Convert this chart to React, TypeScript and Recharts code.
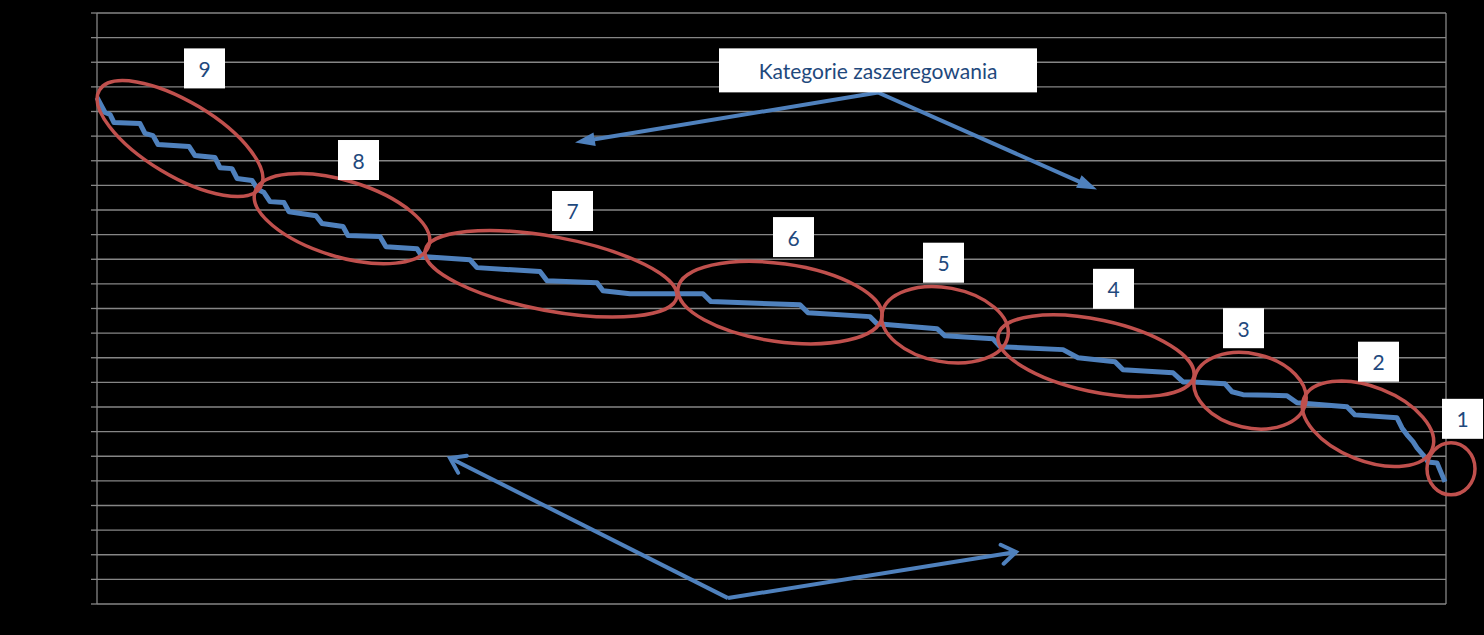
import React from 'react'
import {
  LineChart,
  Line,
  XAxis,
  YAxis,
  CartesianGrid,
  ReferenceDot,
  ReferenceLine,
} from 'recharts'

// position along the pay scale (left to right) and salary level
const positions = [
  0, 8, 13, 17, 43, 48, 56, 61, 92, 98, 118, 123, 135, 140, 155, 161, 167, 173,
  187, 192, 219, 225, 246, 251, 283, 289, 320, 325, 373, 380, 443, 450, 500, 506,
  533, 606, 614, 703, 711, 773, 780, 840, 848, 896, 903, 966, 981, 1018, 1026,
  1076, 1086, 1096, 1128, 1135, 1146, 1190, 1200, 1250, 1258, 1300, 1305, 1310,
  1316, 1320, 1326, 1331, 1340, 1348,
]
const levels = [
  20.57, 19.96, 19.88, 19.55, 19.51, 19.11, 19.02, 18.66, 18.58, 18.21, 18.13,
  17.72, 17.68, 17.28, 17.2, 16.83, 16.71, 16.34, 16.3, 15.93, 15.77, 15.45,
  15.33, 14.96, 14.92, 14.51, 14.43, 14.11, 13.98, 13.66, 13.5, 13.13, 13.05,
  12.72, 12.6, 12.6, 12.28, 12.15, 11.83, 11.67, 11.38, 11.18, 10.89, 10.77,
  10.45, 10.33, 10.0, 9.84, 9.51, 9.39, 9.02, 9.02, 8.94, 8.62, 8.5, 8.46, 8.17,
  8.01, 7.68, 7.56, 7.15, 6.87, 6.59, 6.34, 6.06, 5.77, 5.73, 4.96,
]
const yTicks = [0, 1, 2, 3, 4, 5, 6, 7, 8, 9, 10, 11, 12, 13, 14, 15, 16, 17, 18, 19, 20, 21, 22, 23, 24]

// grading categories
const categories = ['9', '8', '7', '6', '5', '4', '3', '2', '1']
const ringX = [83, 245, 454, 683, 848, 999, 1153, 1271, 1354]
const ringY = [18.9, 15.65, 13.41, 12.24, 11.34, 10.08, 8.66, 7.32, 5.49]
const tagX = [107.5, 261.5, 475.5, 696.5, 846.5, 1016.5, 1146.5, 1281.5, 1365.5]
const tagY = [21.75, 18.03, 15.96, 14.9, 13.86, 12.8, 11.2, 9.84, 7.52]

const title = 'Kategorie zaszeregowania'

// ring shape per category: [rx, ry, rotation]
const ringShape = [
  [94, 37, 31],
  [91, 38, 17],
  [128, 37, 10.5],
  [103, 39, 8],
  [64, 37, 10.5],
  [100, 36, 12],
  [57, 37, 13],
  [69, 37, 21.5],
  [24, 26, 0],
]

const data = positions.map((x, i) => ({ x, y: levels[i] }))

const BLUE = '#4F81BD'
const RED = '#C0504D'
const TEXT = '#1F497D'
const GRID = '#868686'
const FONT = 'Lato, "Open Sans", sans-serif'

const Ring = (rx: number, ry: number, rot: number) => (props: any) => {
  const { cx, cy } = props
  return (
    <ellipse
      cx={cx}
      cy={cy}
      rx={rx}
      ry={ry}
      transform={`rotate(${rot} ${cx} ${cy})`}
      fill="none"
      stroke={RED}
      strokeWidth={3.5}
    />
  )
}

const Tag = (label: string, w: number, h: number, size: number) => (props: any) => {
  const { cx, cy } = props
  return (
    <g>
      <rect x={cx - w / 2} y={cy - h / 2} width={w} height={h} fill="#fff" />
      <text
        x={cx}
        y={cy}
        textAnchor="middle"
        dominantBaseline="central"
        fill={TEXT}
        fontFamily={FONT}
        fontSize={size}
      >
        {label}
      </text>
    </g>
  )
}

const Arrow = (filled: boolean) => (props: any) => {
  const { x1, y1, x2, y2 } = props
  const ang = Math.atan2(y2 - y1, x2 - x1)
  const len = filled ? 21 : 17
  const spread = filled ? 0.33 : 0.6
  const ax = x2 - len * Math.cos(ang - spread)
  const ay = y2 - len * Math.sin(ang - spread)
  const bx = x2 - len * Math.cos(ang + spread)
  const by = y2 - len * Math.sin(ang + spread)
  const ex = filled ? x2 - (len - 4) * Math.cos(ang) : x2
  const ey = filled ? y2 - (len - 4) * Math.sin(ang) : y2
  return (
    <g>
      <line x1={x1} y1={y1} x2={ex} y2={ey} stroke={BLUE} strokeWidth={4} />
      {filled ? (
        <polygon points={`${x2},${y2} ${ax},${ay} ${bx},${by}`} fill={BLUE} />
      ) : (
        <polyline
          points={`${ax},${ay} ${x2},${y2} ${bx},${by}`}
          fill="none"
          stroke={BLUE}
          strokeWidth={4}
          strokeLinecap="round"
        />
      )}
    </g>
  )
}

export default function App() {
  return (
    <div
      style={{
        position: 'fixed',
        left: 0,
        top: 0,
        width: 1484,
        height: 635,
        background: '#000',
        overflow: 'hidden',
      }}
    >
      <LineChart
        width={1484}
        height={635}
        data={data}
        margin={{ top: 13, right: 38, bottom: 31, left: 87 }}
      >
        <CartesianGrid vertical={false} stroke={GRID} strokeWidth={1.3} />
        <XAxis dataKey="x" type="number" domain={[0, 1349]} hide />
        <YAxis
          type="number"
          domain={[0, 24]}
          ticks={yTicks}
          interval={0}
          tick={() => <g />}
          tickSize={6}
          width={10}
          axisLine={{ stroke: GRID, strokeWidth: 1.3 }}
          tickLine={{ stroke: GRID, strokeWidth: 1.3 }}
        />
        <ReferenceLine x={1349} stroke={GRID} strokeWidth={1.3} ifOverflow="visible" />
        <Line
          type="linear"
          dataKey="y"
          stroke={BLUE}
          strokeWidth={5}
          strokeLinejoin="round"
          dot={false}
          activeDot={false}
          isAnimationActive={false}
        />
        {categories.map((c, i) => (
          <ReferenceDot
            key={'ring' + c}
            x={ringX[i]}
            y={ringY[i]}
            r={1}
            ifOverflow="visible"
            shape={Ring(ringShape[i][0], ringShape[i][1], ringShape[i][2])}
          />
        ))}
        {categories.map((c, i) => (
          <ReferenceDot
            key={'tag' + c}
            x={tagX[i]}
            y={tagY[i]}
            r={1}
            ifOverflow="visible"
            shape={Tag(c, 41, 40, 21)}
          />
        ))}
        <ReferenceLine
          segment={[{ x: 781, y: 20.77 }, { x: 478, y: 18.74 }]}
          ifOverflow="visible"
          shape={Arrow(true)}
        />
        <ReferenceLine
          segment={[{ x: 781, y: 20.77 }, { x: 1000, y: 16.83 }]}
          ifOverflow="visible"
          shape={Arrow(true)}
        />
        <ReferenceLine
          segment={[{ x: 631, y: 0.24 }, { x: 353, y: 5.93 }]}
          ifOverflow="visible"
          shape={Arrow(false)}
        />
        <ReferenceLine
          segment={[{ x: 631, y: 0.24 }, { x: 919, y: 2.11 }]}
          ifOverflow="visible"
          shape={Arrow(false)}
        />
        <ReferenceDot
          x={781}
          y={21.67}
          r={1}
          ifOverflow="visible"
          shape={Tag(title, 318, 44, 21)}
        />
      </LineChart>
    </div>
  )
}
